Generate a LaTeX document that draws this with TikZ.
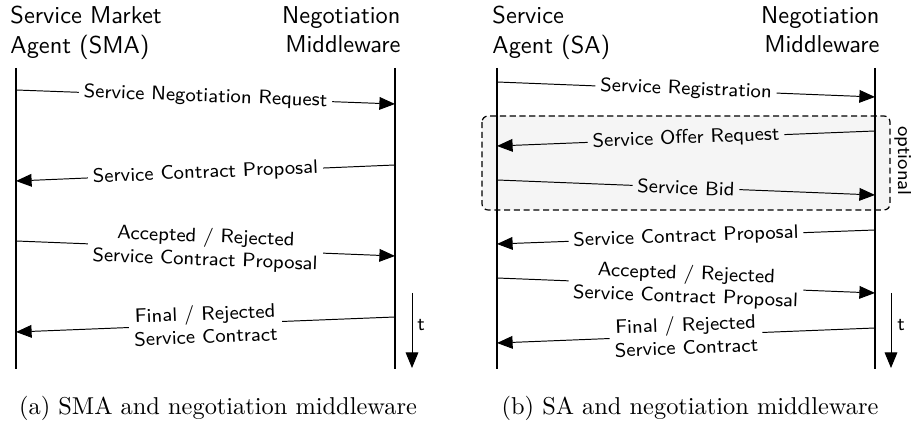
\documentclass[tikz,border=0pt]{standalone}
\usetikzlibrary{arrows.meta}
\definecolor{optfill}{gray}{0.96}
\begin{document}
\begin{tikzpicture}[x=0.41pt,y=-0.41pt,
  life/.style={line width=0.42pt},
  msg/.style={line width=0.4pt,-{Triangle[length=6.4pt,width=5.2pt]}},
  lbl/.style={font=\sffamily\footnotesize,sloped,midway,fill=white,inner sep=2pt,align=center},
  lblopt/.style={lbl,fill=optfill},
  head/.style={font=\sffamily,inner sep=0pt},
  captext/.style={font=\rmfamily,anchor=base,inner sep=0pt}]
\useasboundingbox (0,0) rectangle (911,430);

% ---------------- (a) SMA and negotiation middleware ----------------
\node[head,anchor=north west,align=left] (smaHead) at (10,6) {Service Market\\Agent (SMA)};
\node[head,anchor=north east,align=right] (nmHeadA) at (401,6) {Negotiation\\Middleware};

\coordinate (smaTop) at (16,68);  \coordinate (smaBot) at (16,369);
\coordinate (nmaTop) at (395,68); \coordinate (nmaBot) at (395,369);
\draw[life] (smaTop) -- (smaBot);
\draw[life] (nmaTop) -- (nmaBot);

\coordinate (a1s) at (16,90);   \coordinate (a1e) at (395,104);
\coordinate (a2s) at (395,165); \coordinate (a2e) at (16,181);
\coordinate (a3s) at (16,241);  \coordinate (a3e) at (395,256);
\coordinate (a4s) at (395,317); \coordinate (a4e) at (16,332);

\draw[msg] (a1s) -- node[lbl] {Service Negotiation Request} (a1e);
\draw[msg] (a2s) -- node[lbl] {Service Contract Proposal} (a2e);
\draw[msg] (a3s) -- node[lbl] {Accepted / Rejected\\Service Contract Proposal} (a3e);
\draw[msg] (a4s) -- node[lbl] {Final / Rejected\\Service Contract} (a4e);

\coordinate (taTop) at (412,293); \coordinate (taBot) at (412,368);
\draw[msg] (taTop) -- (taBot);
\node[font=\sffamily\footnotesize,inner sep=0pt] (taLbl) at (421,325) {t};

\node[captext] (capA) at (218,415) {(a) SMA and negotiation middleware};

% ---------------- (b) SA and negotiation middleware ----------------
\filldraw[fill=optfill,draw=black,line width=0.5pt,dash pattern=on 2.5pt off 1.5pt,rounded corners=2.5pt]
  (482,116) rectangle (890,210);
\node[font=\sffamily\footnotesize,rotate=-90,inner sep=0pt] (optLbl) at (903,161) {optional};

\node[head,anchor=north west,align=left] (saHead) at (492,6) {Service\\Agent (SA)};
\node[head,anchor=north east,align=right] (nmHeadB) at (880,6) {Negotiation\\Middleware};

\coordinate (saTop) at (497,68);  \coordinate (saBot) at (497,369);
\coordinate (nmbTop) at (875,68); \coordinate (nmbBot) at (875,369);
\draw[life] (saTop) -- (saBot);
\draw[life] (nmbTop) -- (nmbBot);

\coordinate (b1s) at (497,82);  \coordinate (b1e) at (875,97);
\coordinate (b2s) at (875,131); \coordinate (b2e) at (497,146);
\coordinate (b3s) at (497,180); \coordinate (b3e) at (875,195);
\coordinate (b4s) at (875,230); \coordinate (b4e) at (497,244);
\coordinate (b5s) at (497,278); \coordinate (b5e) at (875,293);
\coordinate (b6s) at (875,328); \coordinate (b6e) at (497,343);

\draw[msg] (b1s) -- node[lbl] {Service Registration} (b1e);
\draw[msg] (b2s) -- node[lblopt] {Service Offer Request} (b2e);
\draw[msg] (b3s) -- node[lblopt] {Service Bid} (b3e);
\draw[msg] (b4s) -- node[lbl] {Service Contract Proposal} (b4e);
\draw[msg] (b5s) -- node[lbl] {Accepted / Rejected\\Service Contract Proposal} (b5e);
\draw[msg] (b6s) -- node[lbl] {Final / Rejected\\Service Contract} (b6e);

\coordinate (tbTop) at (891,293); \coordinate (tbBot) at (891,368);
\draw[msg] (tbTop) -- (tbBot);
\node[font=\sffamily\footnotesize,inner sep=0pt] (tbLbl) at (901,325) {t};

\node[captext] (capB) at (690,415) {(b) SA and negotiation middleware};
\end{tikzpicture}
\end{document}
